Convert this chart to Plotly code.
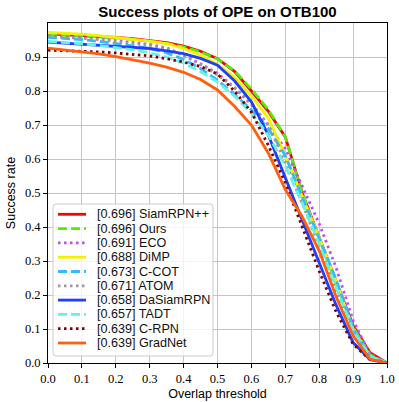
import plotly.graph_objects as go

# Overlap thresholds used by the OTB success plot
thresholds = [0.00, 0.05, 0.10, 0.15, 0.20, 0.25, 0.30, 0.35, 0.40, 0.45, 0.50,
              0.55, 0.60, 0.65, 0.70, 0.75, 0.80, 0.85, 0.90, 0.95, 1.00]

# Success rates
siamrpnpp = [0.968, 0.966, 0.964, 0.961, 0.958, 0.954, 0.949, 0.942, 0.932, 0.917, 0.895,
             0.858, 0.800, 0.740, 0.665, 0.500, 0.370, 0.240, 0.110, 0.030, 0.0]
ours = [0.966, 0.964, 0.962, 0.959, 0.956, 0.952, 0.947, 0.940, 0.930, 0.915, 0.894,
        0.860, 0.805, 0.745, 0.665, 0.500, 0.365, 0.235, 0.105, 0.025, 0.0]
eco = [0.962, 0.960, 0.957, 0.953, 0.948, 0.943, 0.937, 0.927, 0.905, 0.880, 0.852,
       0.810, 0.760, 0.700, 0.630, 0.520, 0.410, 0.280, 0.125, 0.025, 0.0]
dimp = [0.972, 0.970, 0.967, 0.963, 0.958, 0.953, 0.947, 0.939, 0.925, 0.905, 0.878,
        0.840, 0.785, 0.720, 0.610, 0.490, 0.370, 0.240, 0.100, 0.020, 0.0]
ccot = [0.958, 0.955, 0.951, 0.946, 0.940, 0.933, 0.925, 0.912, 0.893, 0.866, 0.832,
        0.790, 0.745, 0.690, 0.610, 0.490, 0.370, 0.245, 0.100, 0.020, 0.0]
atom = [0.960, 0.958, 0.955, 0.951, 0.946, 0.941, 0.935, 0.925, 0.905, 0.878, 0.847,
        0.810, 0.765, 0.700, 0.590, 0.470, 0.340, 0.210, 0.085, 0.015, 0.0]
dasiamrpn = [0.944, 0.941, 0.938, 0.935, 0.932, 0.929, 0.925, 0.918, 0.910, 0.896, 0.876,
             0.830, 0.768, 0.670, 0.544, 0.420, 0.295, 0.170, 0.060, 0.010, 0.0]
tadt = [0.946, 0.943, 0.939, 0.934, 0.928, 0.921, 0.912, 0.900, 0.882, 0.857, 0.826,
        0.785, 0.735, 0.670, 0.580, 0.470, 0.350, 0.225, 0.095, 0.020, 0.0]
crpn = [0.920, 0.919, 0.917, 0.915, 0.912, 0.908, 0.903, 0.895, 0.885, 0.872, 0.850,
        0.800, 0.738, 0.640, 0.530, 0.400, 0.270, 0.150, 0.055, 0.010, 0.0]
gradnet = [0.926, 0.921, 0.915, 0.909, 0.901, 0.892, 0.882, 0.870, 0.855, 0.834, 0.803,
           0.755, 0.700, 0.617, 0.510, 0.430, 0.330, 0.195, 0.080, 0.011, 0.0]

names = ['SiamRPN++', 'Ours', 'ECO', 'DiMP', 'C-COT', 'ATOM', 'DaSiamRPN', 'TADT', 'C-RPN', 'GradNet']
auc = ['0.696', '0.696', '0.691', '0.688', '0.673', '0.671', '0.658', '0.657', '0.639', '0.639']
series = [siamrpnpp, ours, eco, dimp, ccot, atom, dasiamrpn, tadt, crpn, gradnet]
colors = ['#ff0000', '#55ee00', '#bb4dff', '#f2f200', '#33bbff',
          '#999999', '#1f3fff', '#66f2e0', '#800000', '#ff5f0f']
DASH = '9px,4px'
DOT = '2.5px,3.5px'
dashes = ['solid', DASH, DOT, 'solid', DASH, DOT, 'solid', DASH, DOT, 'solid']
LW = 2.8

fig = go.Figure()
for name, vals, col, dsh in zip(names, series, colors, dashes):
    fig.add_trace(go.Scatter(x=thresholds, y=vals, mode='lines', name=name,
                             line=dict(color=col, width=LW, dash=dsh)))

W, H = 399, 402
ML, MR, MT, MB = 48, 12, 23, 39
pw, ph = W - ML - MR, H - MT - MB


def px(x):
    return (x - ML) / pw


def py(y):
    return (H - MB - y) / ph


# hand-made legend (matplotlib style, tighter rows than plotly's own)
bx0, bx1, by0, by1, r = 53, 213, 204, 356, 3
rx, ry = r / pw, r / ph
X0, X1, Y0, Y1 = px(bx0), px(bx1), py(by1), py(by0)
path = (f'M {X0+rx},{Y0} L {X1-rx},{Y0} Q {X1},{Y0} {X1},{Y0+ry} '
        f'L {X1},{Y1-ry} Q {X1},{Y1} {X1-rx},{Y1} L {X0+rx},{Y1} '
        f'Q {X0},{Y1} {X0},{Y1-ry} L {X0},{Y0+ry} Q {X0},{Y0} {X0+rx},{Y0} Z')
shapes = [dict(type='path', path=path, xref='paper', yref='paper', layer='above',
               fillcolor='rgba(255,255,255,0.8)', line=dict(color='#cccccc', width=1))]
annotations = []
for i, (name, a, col, dsh) in enumerate(zip(names, auc, colors, dashes)):
    yy = py(214.3 + 14.3 * i)
    shapes.append(dict(type='line', xref='paper', yref='paper', layer='above',
                       x0=px(58), x1=px(86), y0=yy, y1=yy,
                       line=dict(color=col, width=LW, dash=dsh)))
    annotations.append(dict(text=f'[{a}] {name}', xref='paper', yref='paper',
                            x=px(95), y=yy, xanchor='left', yanchor='middle',
                            showarrow=False,
                            font=dict(family='Liberation Sans', size=12.6, color='#111')))

tickfont = dict(family='Liberation Serif, DejaVu Serif, serif', size=12.5, color='black')
fig.update_layout(
    width=W, height=H,
    margin=dict(l=ML, r=MR, t=MT, b=MB),
    plot_bgcolor='white', paper_bgcolor='white',
    showlegend=False, hovermode=False,
    title=dict(text='<b>Success plots of OPE on OTB100</b>', x=(ML + pw / 2) / W,
               xanchor='center', y=1 - 12 / H, yanchor='middle',
               font=dict(family='Liberation Sans', size=15, color='black')),
    shapes=shapes, annotations=annotations,
)
fig.update_xaxes(range=[0, 1], tickvals=[i / 10 for i in range(11)],
                 ticktext=[f'{i / 10:.1f}' for i in range(11)],
                 showgrid=True, gridcolor='#c4c4c4', gridwidth=1, zeroline=False,
                 showline=True, mirror=True, linecolor='black', linewidth=1,
                 ticks='outside', ticklen=4, tickcolor='black', tickfont=tickfont,
                 title=dict(text='Overlap threshold', standoff=4,
                            font=dict(family='Liberation Sans', size=12.5, color='black')),
                 automargin=False)
fig.update_yaxes(range=[0, 1], tickvals=[i / 10 for i in range(10)],
                 ticktext=[f'{i / 10:.1f}' for i in range(10)],
                 showgrid=True, gridcolor='#c4c4c4', gridwidth=1, zeroline=False,
                 showline=True, mirror=True, linecolor='black', linewidth=1,
                 ticks='outside', ticklen=4, tickcolor='black', tickfont=tickfont,
                 title=dict(text='Success rate', standoff=6,
                            font=dict(family='Liberation Sans', size=12.5, color='black')),
                 automargin=False)

# drop the default page margin so the figure sits at the window's corner
fig.write_html('out.html', config={'displayModeBar': False},
               post_script="document.body.style.margin='0';")
